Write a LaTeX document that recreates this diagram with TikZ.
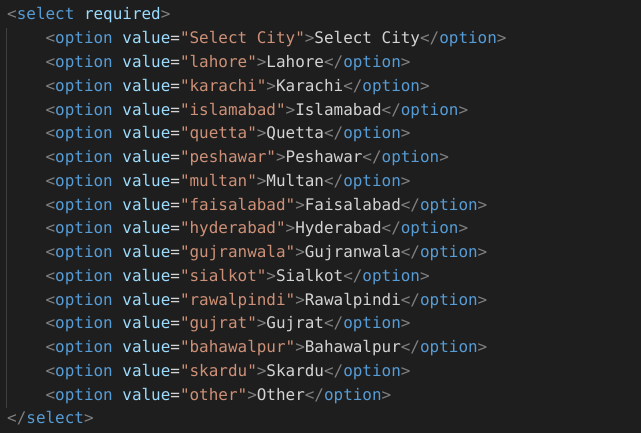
\documentclass[tikz,border=0pt]{standalone}
\usepackage{fontspec}
\setmonofont{DejaVu Sans Mono}
\definecolor{bg}{HTML}{1E1E1E}
\definecolor{brk}{HTML}{808080}
\definecolor{tagc}{HTML}{569CD6}
\definecolor{attrc}{HTML}{9CDCFE}
\definecolor{strc}{HTML}{CE9178}
\definecolor{txtc}{HTML}{D4D4D4}
\definecolor{guide}{HTML}{404040}
\newcommand{\opentag}[1]{\textcolor{brk}{<}\textcolor{tagc}{#1}}
\newcommand{\closetag}[1]{\textcolor{brk}{</}\textcolor{tagc}{#1}\textcolor{brk}{>}}
\tikzset{codeline/.style={anchor=base west, inner sep=0pt, text=txtc,
    font=\ttfamily\fontsize{15.95}{20}\selectfont}}

\begin{document}
\begin{tikzpicture}[x=1pt,y=1pt]
		\useasboundingbox (0,0) rectangle (641,433);
		\fill[bg] (0,0) rectangle (641,433);
		\draw[guide, line width=1pt] (6,405) -- (6,25);
		\node (sel)[codeline] at (7,413) {\opentag{select} \textcolor{attrc}{required}\textcolor{brk}{>}};
		\foreach \v/\c [count=\i] in {Select City/Select City, lahore/Lahore,
			karachi/Karachi, islamabad/Islamabad, quetta/Quetta, peshawar/Peshawar,
			multan/Multan, faisalabad/Faisalabad, hyderabad/Hyderabad,
			gujranwala/Gujranwala, sialkot/Sialkot, rawalpindi/Rawalpindi,
			gujrat/Gujrat, bahawalpur/Bahawalpur, skardu/Skardu, other/Other}
			\node (opt\i)[codeline] at (45.4,413-23.76*\i)
				{\opentag{option} \textcolor{attrc}{value}=\textcolor{strc}{"\v"}\textcolor{brk}{>}\c\closetag{option}};
		\node (endsel)[codeline] at (7,413-23.76*17) {\closetag{select}};
	\end{tikzpicture}
\end{document}
